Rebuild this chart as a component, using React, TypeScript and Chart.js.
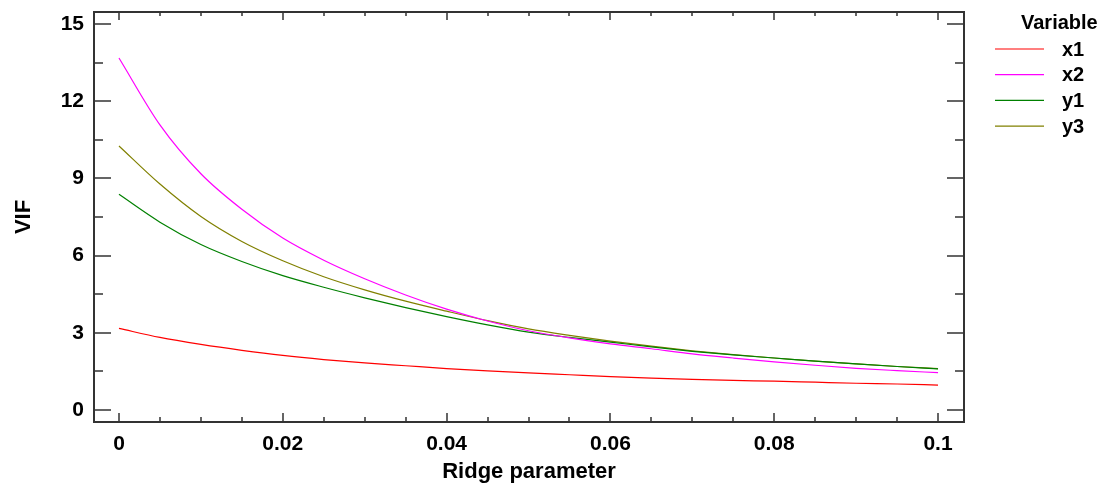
import React, { useEffect, useRef } from "react";
import { Chart, registerables } from "chart.js";

Chart.register(...registerables);

// ---- data ----
const ridge = [0, 0.005, 0.01, 0.015, 0.02, 0.025, 0.03, 0.035, 0.04, 0.045, 0.05, 0.055, 0.06, 0.065, 0.07, 0.075, 0.08, 0.085, 0.09, 0.095, 0.1];
const vifX1 = [3.17, 2.82, 2.55, 2.32, 2.12, 1.96, 1.83, 1.72, 1.61, 1.52, 1.44, 1.37, 1.3, 1.24, 1.19, 1.15, 1.12, 1.08, 1.04, 1.01, 0.97];
const vifX2 = [13.68, 11.08, 9.18, 7.8, 6.68, 5.82, 5.1, 4.47, 3.92, 3.46, 3.08, 2.8, 2.57, 2.38, 2.18, 2.02, 1.87, 1.74, 1.62, 1.53, 1.45];
const vifY1 = [8.38, 7.3, 6.43, 5.77, 5.22, 4.77, 4.36, 3.98, 3.63, 3.31, 3.03, 2.82, 2.64, 2.45, 2.28, 2.14, 2.02, 1.9, 1.79, 1.69, 1.6];
const vifY3 = [10.26, 8.78, 7.52, 6.55, 5.8, 5.18, 4.67, 4.23, 3.84, 3.47, 3.15, 2.9, 2.68, 2.48, 2.3, 2.15, 2.02, 1.9, 1.79, 1.69, 1.61];

const seriesNames = ["x1", "x2", "y1", "y3"];
const seriesValues = [vifX1, vifX2, vifY1, vifY3];
const seriesColors = ["#ff0000", "#ff00ff", "#008000", "#808000"];

const xTickValues = [0, 0.02, 0.04, 0.06, 0.08, 0.1];
const yTickValues = [0, 3, 6, 9, 12, 15];
const xTickLabels = ["0", "0.02", "0.04", "0.06", "0.08", "0.1"];
const yTickLabels = ["0", "3", "6", "9", "12", "15"];

const xTitle = "Ridge parameter";
const yTitle = "VIF";
const legendTitle = "Variable";

const FONT = "'Liberation Sans', Arial, sans-serif";
const AXIS_COLOR = "#333333";

const framePlugin = {
  id: "framePlugin",
  afterDraw(chart: any) {
    const ctx = chart.ctx;
    const { left, right, top, bottom } = chart.chartArea;
    const xs = chart.scales.x;
    const ys = chart.scales.y;
    ctx.save();
    ctx.strokeStyle = AXIS_COLOR;
    ctx.lineWidth = 1.5;
    ctx.beginPath();
    for (let i = 0; i < yTickValues.length; i++) {
      const v = yTickValues[i];
      const y = Math.round(ys.getPixelForValue(v));
      ctx.moveTo(left, y); ctx.lineTo(left + 17, y);
      ctx.moveTo(right, y); ctx.lineTo(right - 17, y);
      if (i < yTickValues.length - 1) {
        const m = (v + yTickValues[i + 1]) / 2;
        const ym = Math.round(ys.getPixelForValue(m));
        ctx.moveTo(left, ym); ctx.lineTo(left + 9, ym);
        ctx.moveTo(right, ym); ctx.lineTo(right - 9, ym);
      }
    }
    for (let i = 0; i < xTickValues.length; i++) {
      const v = xTickValues[i];
      const x = Math.round(xs.getPixelForValue(v));
      ctx.moveTo(x, bottom); ctx.lineTo(x, bottom - 9);
      ctx.moveTo(x, top); ctx.lineTo(x, top + 8);
      if (i < xTickValues.length - 1) {
        const step = (xTickValues[i + 1] - v) / 4;
        for (let k = 1; k < 4; k++) {
          const xm = Math.round(xs.getPixelForValue(v + step * k));
          ctx.moveTo(xm, bottom); ctx.lineTo(xm, bottom - 5);
          ctx.moveTo(xm, top); ctx.lineTo(xm, top + 4);
        }
      }
    }
    ctx.stroke();
    ctx.lineWidth = 2;
    ctx.strokeRect(left, top, right - left, bottom - top);

    // axis titles
    ctx.fillStyle = "#000";
    ctx.font = `bold 22px ${FONT}`;
    ctx.textAlign = "center";
    ctx.textBaseline = "alphabetic";
    ctx.fillText(xTitle, (left + right) / 2, 478);
    ctx.save();
    ctx.translate(30, (top + bottom) / 2);
    ctx.rotate(-Math.PI / 2);
    ctx.fillText(yTitle, 0, 0);
    ctx.restore();

    // legend
    ctx.font = `bold 20px ${FONT}`;
    ctx.textAlign = "left";
    ctx.fillText(legendTitle, 1021, 29);
    for (let i = 0; i < seriesNames.length; i++) {
      const ly = 49 + i * 25.7;
      ctx.strokeStyle = seriesColors[i];
      ctx.lineWidth = 1.2;
      ctx.beginPath();
      ctx.moveTo(995, ly);
      ctx.lineTo(1044, ly);
      ctx.stroke();
      ctx.fillStyle = "#000";
      ctx.fillText(seriesNames[i], 1062, ly + 6.5);
    }
    ctx.restore();
  },
};

const zeroPad = (scale: any) => {
  scale.paddingTop = 0;
  scale.paddingBottom = 0;
  scale.paddingLeft = 0;
  scale.paddingRight = 0;
};

export default function App() {
  const canvasRef = useRef<HTMLCanvasElement | null>(null);

  useEffect(() => {
    if (!canvasRef.current) return;
    const datasets = seriesNames.map((name, si) => ({
      label: name,
      data: ridge.map((r, i) => ({ x: r, y: seriesValues[si][i] })),
      borderColor: seriesColors[si],
      backgroundColor: seriesColors[si],
      borderWidth: 1.2,
      pointRadius: 0,
      cubicInterpolationMode: "monotone" as const,
      fill: false,
    }));
    const chart = new Chart(canvasRef.current, {
      type: "line",
      data: { datasets },
      options: {
        animation: false,
        responsive: false,
        maintainAspectRatio: false,
        layout: { padding: { left: 0, top: 12, right: 146, bottom: 0 } },
        plugins: { legend: { display: false }, tooltip: { enabled: false }, title: { display: false } },
        scales: {
          x: {
            type: "linear",
            min: -0.00305,
            max: 0.10317,
            grid: { display: false, drawTicks: false },
            border: { display: false },
            afterBuildTicks: (scale: any) => {
              scale.ticks = xTickValues.map((v) => ({ value: v }));
            },
            afterFit: (scale: any) => {
              scale.height = 62;
              zeroPad(scale);
            },
            ticks: {
              autoSkip: false,
              maxRotation: 0,
              padding: 10,
              color: "#000",
              font: { family: FONT, size: 21, weight: "bold" },
              callback: (v: any) => {
                const idx = xTickValues.findIndex((t) => Math.abs(t - Number(v)) < 1e-9);
                return idx >= 0 ? xTickLabels[idx] : "";
              },
            },
          },
          y: {
            type: "linear",
            min: -0.466,
            max: 15.466,
            grid: { display: false, drawTicks: false },
            border: { display: false },
            afterBuildTicks: (scale: any) => {
              scale.ticks = yTickValues.map((v) => ({ value: v }));
            },
            afterFit: (scale: any) => {
              scale.width = 94;
              zeroPad(scale);
            },
            ticks: {
              autoSkip: false,
              padding: 10,
              color: "#000",
              font: { family: FONT, size: 21, weight: "bold" },
              callback: (v: any) => {
                const idx = yTickValues.findIndex((t) => Math.abs(t - Number(v)) < 1e-9);
                return idx >= 0 ? yTickLabels[idx] : "";
              },
            },
          },
        },
      },
      plugins: [framePlugin],
    });
    return () => chart.destroy();
  }, []);

  return (
    <div style={{ position: "fixed", left: 0, top: 0, width: 1110, height: 484 }}>
      <canvas ref={canvasRef} width={1110} height={484} style={{ display: "block" }} />
    </div>
  );
}
